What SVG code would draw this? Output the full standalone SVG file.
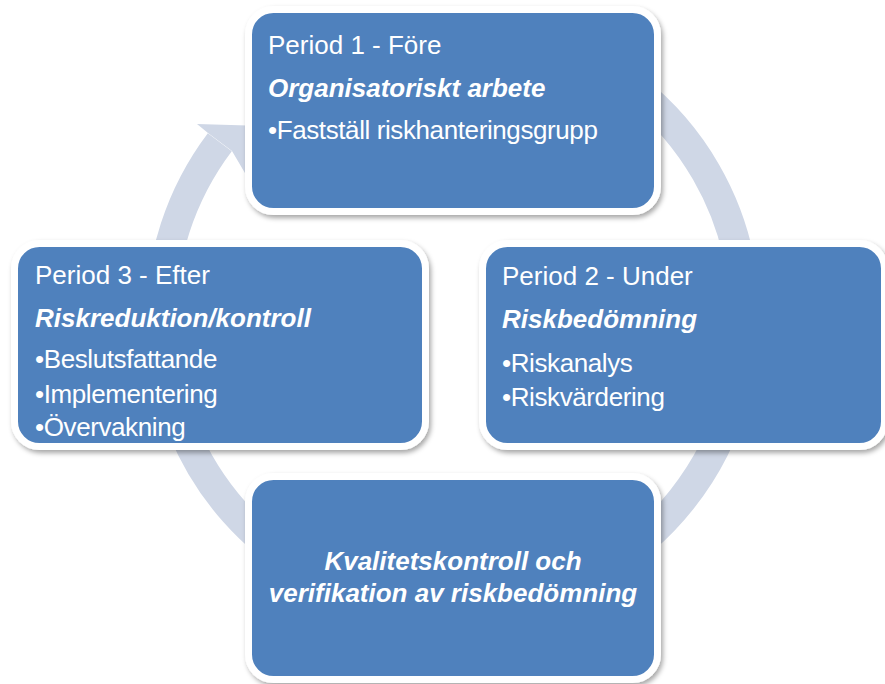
<svg xmlns="http://www.w3.org/2000/svg" width="885" height="684" viewBox="0 0 885 684">
  <defs>
    <filter id="shadow" x="-10%" y="-10%" width="120%" height="125%">
      <feDropShadow dx="2" dy="3" stdDeviation="2.5" flood-color="#000" flood-opacity="0.35"/>
    </filter>
  </defs>
  <style>
    .box { fill: #4f81bd; stroke: #ffffff; stroke-width: 7; filter: url(#shadow); }
    .ring { fill: none; stroke: #cfd7e6; stroke-width: 30; }
    .head { fill: #cfd7e6; }
    text { font-family: "Liberation Sans", Arial, sans-serif; font-size: 26px; fill: #ffffff; }
    .bi { font-weight: bold; font-style: italic; }
    .c { text-anchor: middle; }
    .li { letter-spacing: -0.4px; }
  </style>
  <rect width="885" height="684" fill="#ffffff"/>

  <g id="connectors">
    <path class="ring" d="M 307 65 A 292 292 0 1 1 599 571 A 292 292 0 0 1 219.8 142.3"/>
    <polygon class="head" points="208,133 197,124 262,126 252,185 232,151"/>
  </g>

  <g id="node-period1">
    <rect class="box" x="248.5" y="9.5" width="409" height="202" rx="25"/>
    <text x="268" y="54">Period 1 - Före</text>
    <text class="bi" x="268" y="97">Organisatoriskt arbete</text>
    <text class="li" x="268" y="139">•Fastställ riskhanteringsgrupp</text>
  </g>

  <g id="node-period3">
    <rect class="box" x="14.5" y="243.5" width="411" height="203" rx="25"/>
    <text x="35" y="284">Period 3 - Efter</text>
    <text class="bi" x="35" y="327">Riskreduktion/kontroll</text>
    <text class="li" x="35" y="368">•Beslutsfattande</text>
    <text class="li" x="35" y="403">•Implementering</text>
    <text class="li" x="35" y="436">•Övervakning</text>
  </g>

  <g id="node-period2">
    <rect class="box" x="482.5" y="243.5" width="402" height="203" rx="25"/>
    <text x="502" y="285">Period 2 - Under</text>
    <text class="bi" x="502" y="328">Riskbedömning</text>
    <text class="li" x="502" y="372">•Riskanalys</text>
    <text class="li" x="502" y="406">•Riskvärdering</text>
  </g>

  <g id="node-kvalitet">
    <rect class="box" x="248.5" y="476.5" width="409" height="203" rx="25"/>
    <text class="bi c" x="453" y="570">Kvalitetskontroll och</text>
    <text class="bi c" x="453" y="602">verifikation av riskbedömning</text>
  </g>
</svg>
